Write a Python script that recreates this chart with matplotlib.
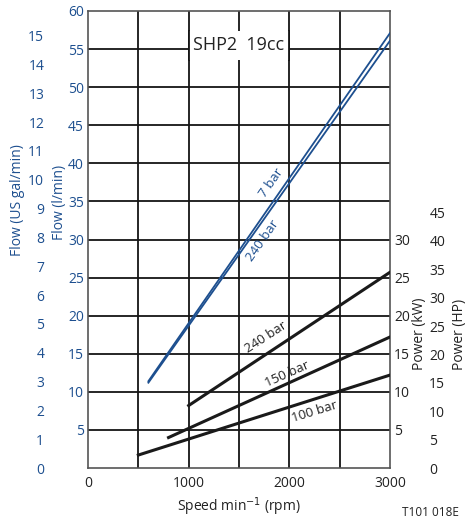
import matplotlib
matplotlib.use('Agg')
import numpy as np
import matplotlib.pyplot as plt
from matplotlib.patches import Rectangle

plt.rcParams['font.family'] = ['Open Sans', 'DejaVu Sans']

blue = '#1d4f8f'

# flow lines (speed rpm, flow l/min)
flow7_x = [600, 3000]
flow7_y = [11.4, 57.1]
flow240_x = [600, 3000]
flow240_y = [11.2, 56.1]

# power lines (speed rpm, power kW)
p240_x = [1000, 3000]
p240_y = [8.2, 25.7]
p150_x = [800, 3000]
p150_y = [4.0, 17.2]
p100_x = [500, 3000]
p100_y = [1.7, 12.2]

x_ticks = [0, 1000, 2000, 3000]
x_grid = [500, 1000, 1500, 2000, 2500]
flow_ticks = list(range(5, 61, 5))
gal_ticks = list(range(0, 16))
kw_ticks = [5, 10, 15, 20, 25, 30]
hp_ticks = list(range(0, 46, 5))

L_PER_GAL = 3.785
HP_PER_KW = 1.341

fig = plt.figure(figsize=(4.67, 5.19), dpi=100)
ax = fig.add_axes([88/467, 1-468/519, 302/467, 457/519])
ax.set_xlim(0, 3000)
ax.set_ylim(0, 60)

for xv in x_grid:
    ax.axvline(xv, color='#151515', lw=1.3, zorder=1)
for yv in flow_ticks[:-1]:
    ax.axhline(yv, color='#151515', lw=1.3, zorder=1)

# title box
ax.add_patch(Rectangle((1000, 53.6), 1000, 3.8, facecolor='white', edgecolor='none', zorder=2))
ax.plot([1000, 1000], [53.6, 57.4], color='#151515', lw=1.3, zorder=3)
ax.plot([2000, 2000], [53.6, 57.4], color='#151515', lw=1.3, zorder=3)
ax.text(1500, 55.5, 'SHP2  19cc', ha='center', va='center', fontsize=13, color='#222222', zorder=4)

ax.plot(flow7_x, flow7_y, color=blue, lw=1.3, zorder=5)
ax.plot(flow240_x, flow240_y, color=blue, lw=1.3, zorder=5)
ax.plot(p240_x, p240_y, color='#1a1a1a', lw=2.2, zorder=5)
ax.plot(p150_x, p150_y, color='#1a1a1a', lw=2.2, zorder=5)
ax.plot(p100_x, p100_y, color='#1a1a1a', lw=2.2, zorder=5)

ax.text(1819, 37.4, '7 bar', rotation=55, ha='center', va='center', fontsize=9.5, color=blue)
ax.text(1733, 29.9, '240 bar', rotation=55, ha='center', va='center', fontsize=9.5, color=blue)
ax.text(1769, 17.2, '240 bar', rotation=33, ha='center', va='center', fontsize=9.5, color='#222222')
ax.text(1980, 12.3, '150 bar', rotation=24, ha='center', va='center', fontsize=9.5, color='#222222')
ax.text(2248, 7.4, '100 bar', rotation=17, ha='center', va='center', fontsize=9.5, color='#222222')

for s in ax.spines.values():
    s.set_color('#555555')
    s.set_linewidth(1.2)

ax.set_xticks(x_ticks)
ax.set_yticks(flow_ticks)
ax.tick_params(axis='x', length=0, pad=6, labelsize=10, labelcolor='#222222')
ax.tick_params(axis='y', length=0, pad=3, labelsize=10, labelcolor=blue)
ax.set_xlabel('Speed min$^{-1}$ (rpm)', fontsize=10, color='#222222', labelpad=3)

# US gal/min axis
gal = ax.secondary_yaxis(-0.145, functions=(lambda q: q / L_PER_GAL, lambda g: g * L_PER_GAL))
gal.set_yticks(gal_ticks)
gal.spines['left'].set_visible(False)
gal.tick_params(length=0, pad=0, labelsize=10, labelcolor=blue)

# kW axis
kw = ax.secondary_yaxis('right')
kw.set_yticks(kw_ticks)
kw.spines['right'].set_visible(False)
kw.tick_params(length=0, pad=3, labelsize=10, labelcolor='#222222')

# HP axis
hp = ax.secondary_yaxis(1.13, functions=(lambda p: p * HP_PER_KW, lambda h: h / HP_PER_KW))
hp.set_yticks(hp_ticks)
hp.spines['right'].set_visible(False)
hp.tick_params(length=0, pad=0, labelsize=10, labelcolor='#222222')

fig.text(18/467, 1-200/519, 'Flow (US gal/min)', rotation=90, ha='center', va='center', fontsize=10, color=blue)
fig.text(60/467, 1-202/519, 'Flow (l/min)', rotation=90, ha='center', va='center', fontsize=10, color=blue)
fig.text(420/467, 1-334/519, 'Power (kW)', rotation=90, ha='center', va='center', fontsize=10, color='#222222')
fig.text(460/467, 1-334/519, 'Power (HP)', rotation=90, ha='center', va='center', fontsize=10, color='#222222')
fig.text(430/467, 1-512/519, 'T101 018E', ha='center', va='center', fontsize=8.5, color='#222222')

fig.savefig('out.png', dpi=100)
